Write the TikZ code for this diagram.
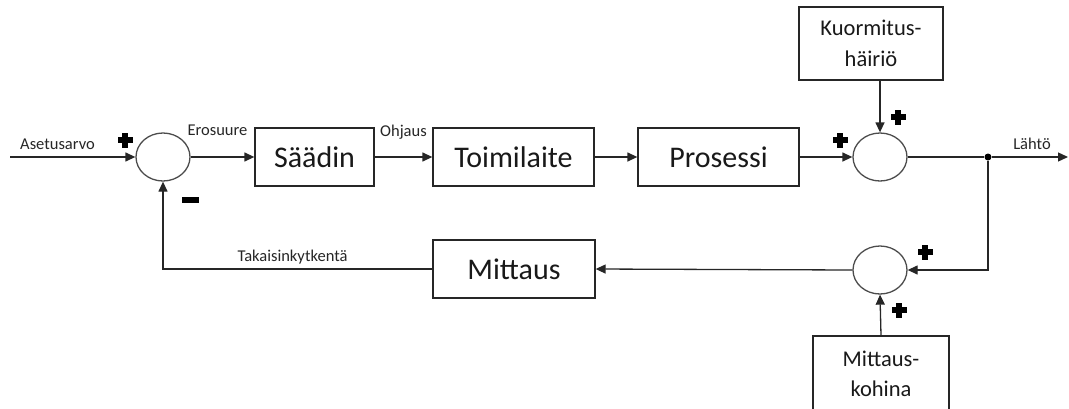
\documentclass[tikz,border=0pt]{standalone}
\usepackage{fontspec}
\setmainfont{Carlito}
\usetikzlibrary{shapes.geometric,arrows.meta}
\begin{document}
\begin{tikzpicture}[x=1pt,y=-1pt,
  line width=1.3pt,
  blk/.style={draw=black!85, rectangle, inner sep=0pt, minimum height=58pt, text=black!90,
    font=\fontsize{30}{36}\selectfont},
  sumc/.style={draw=black!70, ellipse, inner sep=0pt, minimum width=54pt, minimum height=48pt},
  lbl/.style={inner sep=0pt, anchor=base, text=black!85, font=\fontsize{16.5}{20}\selectfont},
  conn/.style={draw=black!85, -{Triangle[length=10pt,width=9pt]}},
  plusmark/.pic={\fill[black] (-7.5,-2.6) rectangle (7.5,2.6); \fill[black] (-2.6,-7.5) rectangle (2.6,7.5);}
]
\useasboundingbox (0,0) rectangle (1069,408);

% summing junctions
\node[sumc] (c1) at (163,157) {};
\node[sumc] (c2) at (880,157) {};
\node[sumc] (c3) at (880,270) {};

% blocks
\node[blk, minimum width=119pt] (saadin) at (314.5,157) {Säädin};
\node[blk, minimum width=161pt] (toimi) at (513.5,157) {Toimilaite};
\node[blk, minimum width=161pt] (proses) at (718.5,157) {Prosessi};
\node[blk, minimum width=162pt] (mittaus) at (514,269) {Mittaus};
\node[blk, minimum width=144pt, minimum height=73pt, align=center,
  font=\fontsize{22.5}{31}\selectfont] (kuorm) at (871,43.5) {Kuormitus-\\häiriö};
\node[blk, minimum width=136pt, minimum height=76pt, align=center,
  font=\fontsize{22.5}{30}\selectfont] (kohina) at (881,374) {Mittaus-\\kohina};

% output branch point
\node[circle, fill=black, inner sep=0pt, minimum size=7pt] (dot) at (988,157) {};
\coordinate (inp) at (10,157);
\coordinate (outp) at (1068,157);

% labels
\node[lbl] (l1) at (57.5,149) {Asetusarvo};
\node[lbl] (l2) at (217.5,135) {Erosuure};
\node[lbl] (l3) at (403.5,136) {Ohjaus};
\node[lbl] (l4) at (1032,149) {Lähtö};
\node[lbl] (l5) at (292.5,261) {Takaisinkytkentä};

% connectors
\draw[conn] (inp) -- (c1.west);
\draw[conn] (c1.east) -- (saadin.west);
\draw[conn] (saadin.east) -- (toimi.west);
\draw[conn] (toimi.east) -- (proses.west);
\draw[conn] (proses.east) -- (c2.west);
\draw[conn] (c2.north |- kuorm.south) -- (c2.north);
\draw[draw=black!85] (c2.east) -- (dot);
\draw[conn] (dot) -- (outp);
\draw[conn] (dot) |- (c3.east);
\draw[conn] (kohina.north) -- (c3.south);
\draw[conn] (c3.west) -- (mittaus.east);
\draw[conn] (mittaus.west) -| (c1.south);

% signs
\pic at (125,140) {plusmark};
\pic at (840,140) {plusmark};
\pic at (898,117) {plusmark};
\pic at (925,252) {plusmark};
\pic at (899,310) {plusmark};
\fill[black] (181.5,197) rectangle (198.5,203);
\end{tikzpicture}
\end{document}
